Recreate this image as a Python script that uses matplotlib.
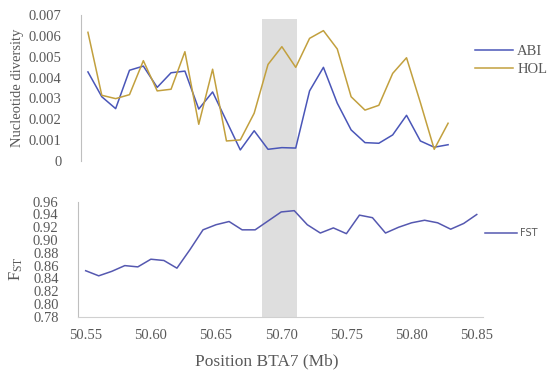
import numpy as np
import matplotlib
matplotlib.use("Agg")
import matplotlib.pyplot as plt
from matplotlib.patches import Rectangle
from matplotlib.transforms import blended_transform_factory

# nucleotide diversity windows (top panel, category axis)
abi = [0.00427, 0.00308, 0.00251, 0.00435, 0.00455, 0.00353, 0.00423, 0.00431,
       0.00249, 0.00331, 0.00192, 0.00053, 0.00145, 0.00056, 0.00064, 0.00062,
       0.00336, 0.00449, 0.00277, 0.00149, 0.00088, 0.00085, 0.00125, 0.00219,
       0.00096, 0.00066, 0.00078]
hol = [0.00617, 0.00315, 0.00299, 0.00318, 0.00481, 0.00336, 0.00344, 0.00524,
       0.00176, 0.00440, 0.00096, 0.00101, 0.00229, 0.00463, 0.00548, 0.00449,
       0.00588, 0.00625, 0.00537, 0.00308, 0.00244, 0.00267, 0.00420, 0.00495,
       0.00280, 0.00056, 0.00181]

# FST along BTA7 (bottom panel)
pos = np.round(np.arange(50.55, 50.855, 0.01), 2)
fst = [0.852, 0.844, 0.851, 0.860, 0.858, 0.870, 0.868, 0.856, 0.885, 0.916,
       0.924, 0.929, 0.916, 0.916, 0.930, 0.944, 0.946, 0.924, 0.911, 0.919,
       0.910, 0.939, 0.935, 0.911, 0.920, 0.927, 0.931, 0.927, 0.917, 0.926,
       0.940]

region = (50.685, 50.712)  # highlighted window

plt.rcParams['font.family'] = ['Liberation Serif', 'DejaVu Serif']
txt = '#595959'
blue = '#4a56b8'
gold = '#c2a03e'

fig = plt.figure(figsize=(5.5, 3.73), dpi=100)
ax1 = fig.add_axes([0.1473, 0.5684, 0.68, 0.3914])
ax2 = fig.add_axes([0.1418, 0.1509, 0.7364, 0.3083])

# top panel
idx = np.arange(len(abi))
ax1.plot(idx, abi, color=blue, lw=1.1, label='ABI')
ax1.plot(idx, hol, color=gold, lw=1.1, label='HOL')
ax1.set_xlim(-0.5, len(abi) - 0.5)
ax1.set_ylim(0, 0.007)
ax1.set_xticks([])
yt = np.arange(0, 0.0071, 0.001)
ax1.set_yticks(yt)
ax1.set_yticklabels(['0'] + ['%.3f' % v for v in yt[1:]])
ax1.set_ylabel('Nucleotide diversity', fontsize=10.5, color=txt)
ax1.yaxis.set_label_coords(-0.152, 0.5)
ax1.legend(frameon=False, loc='center left', bbox_to_anchor=(0.8636, 0.8373),
           bbox_transform=fig.transFigure, fontsize=10.5, handlelength=2.6,
           handletextpad=0.3, labelspacing=0.35, borderpad=0, borderaxespad=0,
           labelcolor=txt)

# bottom panel
ax2.plot(pos, fst, color='#5558b0', lw=1.1, label='FST')
ax2.set_xlim(50.5441, 50.8548)
ax2.set_ylim(0.78, 0.96)
ax2.set_yticks(np.arange(0.78, 0.961, 0.02))
ax2.yaxis.set_major_formatter(plt.FormatStrFormatter('%.2f'))
ax2.set_xticks(np.arange(50.55, 50.851, 0.05))
ax2.xaxis.set_major_formatter(plt.FormatStrFormatter('%.2f'))
ax2.set_ylabel(r'$\mathregular{F_{ST}}$', fontsize=12, color=txt)
ax2.yaxis.set_label_coords(-0.131, 0.42)
ax2.set_xlabel('Position BTA7 (Mb)', fontsize=12.5, color=txt)
ax2.xaxis.set_label_coords(0.465, -0.32)
ax2.legend(frameon=False, loc='center left', bbox_to_anchor=(0.8818, 0.3745),
           bbox_transform=fig.transFigure, handlelength=3.3, handletextpad=0.3,
           borderpad=0, borderaxespad=0, labelcolor=txt,
           prop={'family': 'DejaVu Sans', 'size': 7})

for ax in (ax1, ax2):
    ax.set_facecolor('none')
    for s in ('top', 'right'):
        ax.spines[s].set_visible(False)
    ax.spines['left'].set_color('#bfbfbf')
    ax.spines['bottom'].set_color('#d0d0d0')
    ax.tick_params(length=0, colors=txt, labelsize=10.5, pad=14)
ax1.spines['bottom'].set_visible(False)
ax2.tick_params(axis='x', pad=9)

# grey band across both panels
tr = blended_transform_factory(ax2.transData, fig.transFigure)
fig.patches.append(Rectangle((region[0], 0.1509), region[1] - region[0], 0.7974,
                             transform=tr, facecolor='#dedede', edgecolor='none',
                             zorder=-1))

fig.savefig('out.png', dpi=100)
